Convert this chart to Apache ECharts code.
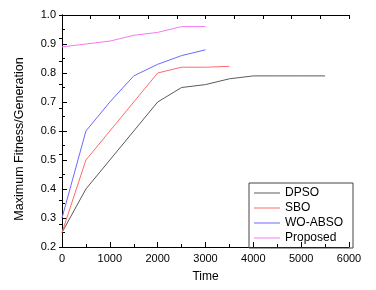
<!DOCTYPE html>
<html><head><meta charset="utf-8">
<script src="https://cdn.jsdelivr.net/npm/echarts@6/dist/echarts.min.js"></script>
<style>html,body{margin:0;padding:0;background:#fff}#c{width:376px;height:290px}</style>
</head><body><div id="c"></div>
<script>
var timeDPSO = [0,500,1000,1500,2000,2500,3000,3500,4000,4500,5000,5500];
var valDPSO  = [0.25,0.40,0.50,0.60,0.70,0.75,0.76,0.78,0.79,0.79,0.79,0.79];
var timeSBO  = [0,500,1000,1500,2000,2500,3000,3500];
var valSBO   = [0.25,0.50,0.60,0.70,0.80,0.82,0.82,0.823];
var timeWO   = [0,500,1000,1500,2000,2500,3000];
var valWO    = [0.30,0.60,0.70,0.79,0.83,0.86,0.88];
var timeProp = [0,500,1000,1500,2000,2500,3000];
var valProp  = [0.89,0.90,0.91,0.93,0.94,0.96,0.96];
var names = ['DPSO','SBO','WO-ABSO','Proposed'];
var colors = ['#5a5a5a','#ff6a6a','#6a6aff','#f27af2'];

function pairs(t,v){return t.map(function(x,i){return [x,v[i]];});}
var font = 'Liberation Sans, Arial, sans-serif';
var narrow = '"Liberation Sans Narrow", "Arial Narrow", Liberation Sans, sans-serif';
var chart = echarts.init(document.getElementById('c'));
var axLine = {show:true,lineStyle:{color:'#000',width:1}};
chart.setOption({
  animation:false,
  grid:{left:62,right:27,top:15,bottom:43},
  xAxis:[
    {type:'value',position:'bottom',min:0,max:6000,interval:1000,
     axisLine:axLine,axisTick:{inside:true,length:5,lineStyle:{color:'#000'}},
     minorTick:{show:true,splitNumber:2,length:3,lineStyle:{color:'#000'}},
     splitLine:{show:false},
     axisLabel:{color:'#000',fontSize:11,fontFamily:narrow,margin:6,
       formatter:function(v){return String(v);}},
     name:'Time',nameLocation:'middle',nameGap:24,
     nameTextStyle:{color:'#000',fontSize:12,fontFamily:font}},
    {type:'value',position:'top',min:0,max:10,interval:1,
     axisLine:axLine,axisTick:{inside:true,length:4,lineStyle:{color:'#000'}},
     splitLine:{show:false},axisLabel:{show:false}}
  ],
  yAxis:[
    {type:'value',position:'left',min:0.2,max:1.0,interval:0.1,
     axisLine:axLine,axisTick:{inside:true,length:5,lineStyle:{color:'#000'}},
     minorTick:{show:true,splitNumber:2,length:3,lineStyle:{color:'#000'}},
     splitLine:{show:false},
     axisLabel:{color:'#000',fontSize:11,fontFamily:narrow,margin:6,
       formatter:function(v){return v.toFixed(1);}},
     name:'Maximum Fitness/Generation',nameLocation:'middle',nameGap:36,
     nameTextStyle:{color:'#000',fontSize:12.5,fontFamily:font,padding:[0,16,0,0]}},
    {type:'value',position:'right',min:0,max:10,interval:1,
     axisLine:axLine,axisTick:{inside:true,length:3,lineStyle:{color:'#000'}},
     splitLine:{show:false},axisLabel:{show:false}}
  ],
  legend:{orient:'vertical',left:249,top:183,padding:[4,10,4,5],
    itemGap:3,itemWidth:26,itemHeight:1,icon:'rect',
    borderColor:'#444',borderWidth:1,borderRadius:0,
    textStyle:{color:'#000',fontSize:12,fontFamily:font,lineHeight:12,padding:[0,0,0,0]},
    data:names},
  series:[
    {name:names[0],type:'line',data:pairs(timeDPSO,valDPSO)},
    {name:names[1],type:'line',data:pairs(timeSBO,valSBO)},
    {name:names[2],type:'line',data:pairs(timeWO,valWO)},
    {name:names[3],type:'line',data:pairs(timeProp,valProp)}
  ].map(function(s,i){
    s.showSymbol=false;s.symbol='none';s.color=colors[i];
    s.lineStyle={width:1,color:colors[i]};s.itemStyle={color:colors[i]};
    return s;})
});
</script></body></html>
